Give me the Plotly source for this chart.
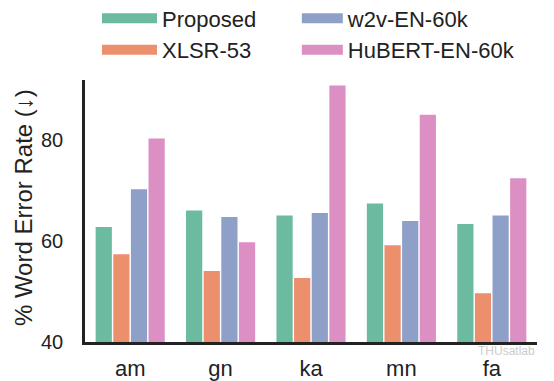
import plotly.graph_objects as go

categories = ["am", "gn", "ka", "mn", "fa"]
series_names = ["Proposed", "XLSR-53", "w2v-EN-60k", "HuBERT-EN-60k"]
proposed = [62.8, 66.1, 65.1, 67.5, 63.4]
xlsr53 = [57.4, 54.1, 52.7, 59.2, 49.7]
w2v_en_60k = [70.3, 64.8, 65.6, 64.0, 65.1]
hubert_en_60k = [80.4, 59.8, 90.9, 85.1, 72.5]
y_ticks = [40, 60, 80]
y_title = "% Word Error Rate (↓)"

colors = ["#6cbba0", "#ec8f6c", "#8fa0c8", "#dc8fc3"]
values = [proposed, xlsr53, w2v_en_60k, hubert_en_60k]
legend_ids = ["legend", "legend", "legend2", "legend2"]

FONT = "Liberation Sans, Arial, sans-serif"
INK = "#222222"

fig = go.Figure()
for name, vals, col in zip(series_names, values, colors):
    fig.add_trace(go.Bar(x=categories, y=vals, name=name, marker_color=col,
                         marker_line_width=0, showlegend=False))
# legend entries (wide swatches)
for name, col, lg in zip(series_names, colors, legend_ids):
    fig.add_trace(go.Scatter(x=[None], y=[None], mode="lines", name=name,
                             line=dict(color=col, width=13), legend=lg,
                             showlegend=True, hoverinfo="skip"))

# page body has an 8px default margin: figure is sized to fit the window
W, H = 546, 373
fig.update_layout(
    width=W, height=H,
    margin=dict(l=77, r=17, t=72, b=39, autoexpand=False),
    paper_bgcolor="white", plot_bgcolor="white",
    barmode="group", bargap=0.22, bargroupgap=0.08,
    font=dict(family=FONT, size=21, color=INK),
    legend=dict(x=0.163, xanchor="left", y=1.315, yanchor="top", xref="container",
                yref="paper", orientation="v", itemwidth=55,
                font=dict(size=22, color=INK), tracegroupgap=0,
                bgcolor="rgba(0,0,0,0)"),
    legend2=dict(x=0.529, xanchor="left", y=1.315, yanchor="top", xref="container",
                 yref="paper", orientation="v", itemwidth=41,
                 font=dict(size=22, color=INK), tracegroupgap=0,
                 bgcolor="rgba(0,0,0,0)"),
    showlegend=True,
)
fig.update_xaxes(showline=True, linecolor=INK, linewidth=2.5,
                 showgrid=False, ticks="outside", ticklen=5, tickcolor="white",
                 tickfont=dict(size=22, color=INK), zeroline=False)
fig.update_yaxes(range=[40, 92], tickvals=y_ticks, showline=True,
                 linecolor=INK, linewidth=2.5, showgrid=False,
                 zeroline=False, ticks="outside", ticklen=15, tickcolor="white",
                 tickfont=dict(size=20, color=INK))
fig.add_annotation(text=y_title, textangle=-90, xref="paper", yref="paper",
                   x=-0.136, y=0.513, xanchor="center", yanchor="middle",
                   showarrow=False, font=dict(size=24, color=INK))
fig.add_annotation(text="THUsatlab", xref="paper", yref="paper", x=1.0, y=0.0,
                   xanchor="right", yanchor="top", showarrow=False,
                   font=dict(size=12, color="#cccccc"))
fig.write_html("out.html")
